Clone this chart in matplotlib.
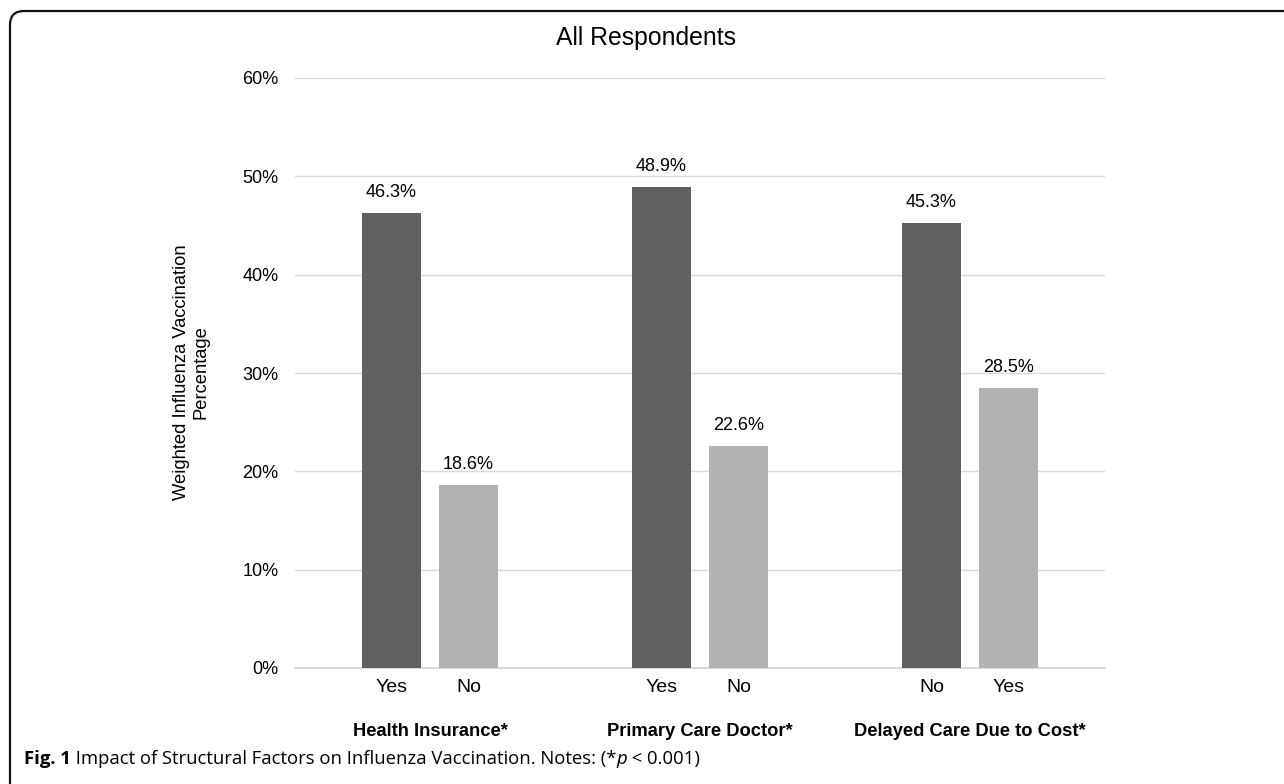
import numpy as np
import matplotlib.pyplot as plt
from matplotlib.patches import FancyBboxPatch

plt.rcParams['font.family'] = ['Liberation Sans', 'DejaVu Sans']

groups = ['Health Insurance*', 'Primary Care Doctor*', 'Delayed Care Due to Cost*']
left_labels = ['Yes', 'Yes', 'No']
right_labels = ['No', 'No', 'Yes']
left_values = [46.3, 48.9, 45.3]
right_values = [18.6, 22.6, 28.5]
y_ticks = [0, 10, 20, 30, 40, 50, 60]

W, H = 1284, 784
fig = plt.figure(figsize=(W / 100, H / 100), dpi=100)
ax = fig.add_axes([295 / W, (H - 668) / H, 810 / W, 590 / H])

x = np.arange(len(groups))
off = 0.1426
bw = 0.222
dark = '#606060'
light = '#b2b2b2'
ax.bar(x - off, left_values, bw, color=dark, zorder=2)
ax.bar(x + off, right_values, bw, color=light, zorder=2)

for xi, v in zip(x - off, left_values):
    ax.text(xi, v + 1.2, f'{v:.1f}%', ha='center', va='bottom', fontsize=13)
for xi, v in zip(x + off, right_values):
    ax.text(xi, v + 1.2, f'{v:.1f}%', ha='center', va='bottom', fontsize=13)

ax.set_xlim(-0.5, len(groups) - 0.5)
ax.set_ylim(0, 60)
ax.set_yticks(y_ticks)
ax.set_yticklabels([f'{t}%' for t in y_ticks], fontsize=13)
ax.tick_params(axis='y', length=0, pad=12)
ax.grid(axis='y', color='#d9d9d9', linewidth=1, zorder=0)
ax.axhline(0, color='#d9d9d9', linewidth=1.5, zorder=1, clip_on=False)
for s in ['top', 'right', 'left', 'bottom']:
    ax.spines[s].set_visible(False)

ax.set_xticks(list(x - off) + list(x + off))
ax.set_xticklabels(left_labels + right_labels, fontsize=14)
ax.tick_params(axis='x', length=0, pad=8)

for xi, g in zip(x, groups):
    ax.annotate(g, xy=(xi, 0), xycoords=('data', 'axes fraction'),
                xytext=(0, -63), textcoords='offset pixels',
                ha='center', va='center', fontsize=13.2, fontweight='bold')

fig.text(191 / W, 1 - 372 / H, 'Weighted Influenza Vaccination\nPercentage',
         rotation=90, ha='center', va='center', fontsize=13.2, linespacing=1.2)
fig.text(646 / W, 1 - 38 / H, 'All Respondents', ha='center', va='center', fontsize=17.8)

# frame around the figure panel
frame = FancyBboxPatch((10, -40), 1400, H - 11 + 40,
                       boxstyle='round,pad=0,rounding_size=14',
                       transform=None, fill=False, edgecolor='#111111',
                       linewidth=1.6, clip_on=False)
fig.patches.append(frame)

# caption with mixed styles
fig.canvas.draw()
r = fig.canvas.get_renderer()
pieces = [('Fig. 1', {'fontweight': 'bold'}),
          (' Impact of Structural Factors on Influenza Vaccination. Notes: (*', {}),
          ('p', {'style': 'italic'}),
          (' < 0.001)', {})]
xpos = 24
for txt, kw in pieces:
    t = fig.text(xpos / W, 1 - 764 / H, txt, ha='left', va='baseline',
                 fontsize=13.3, family=['Open Sans', 'DejaVu Sans'], **kw)
    bb = t.get_window_extent(renderer=r)
    xpos = bb.x1

fig.savefig('out.png', dpi=100)
